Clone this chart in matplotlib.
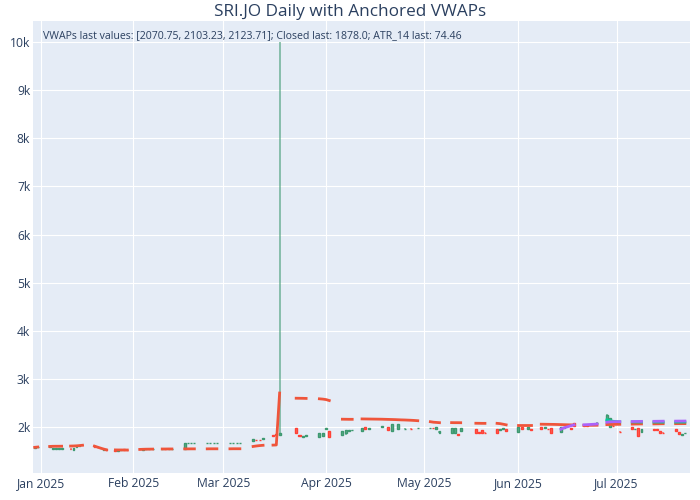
import numpy as np
import pandas as pd
import matplotlib
matplotlib.use("Agg")
import matplotlib.pyplot as plt
import matplotlib.dates as mdates
from matplotlib.colors import to_rgba

TITLE = "SRI.JO Daily with Anchored VWAPs"
NOTE = "VWAPs last values: [2070.75, 2103.23, 2123.71]; Closed last: 1878.0; ATR_14 last: 74.46"

N = None
# trading stretches (start date, number of consecutive days); lines break between stretches
seg_starts = ["2024-12-30", "2025-01-04", "2025-01-11", "2025-01-19", "2025-01-26",
              "2025-02-03", "2025-02-10", "2025-02-17", "2025-02-24", "2025-03-03",
              "2025-03-10", "2025-03-16", "2025-03-23", "2025-03-30", "2025-04-06",
              "2025-04-12", "2025-05-03", "2025-05-10", "2025-05-18", "2025-05-25",
              "2025-06-01", "2025-06-08", "2025-06-21", "2025-06-28", "2025-07-06",
              "2025-07-13", "2025-07-20"]
seg_lengths = [2, 5, 5, 5, 5, 5, 4, 4, 4, 4, 4, 3, 4, 4, 4, 18, 4, 4, 4, 4, 5, 11, 5, 5, 4, 4, 4]

opens = [1560, 1578,
         1592, 1548, 1545, 1540, 1552,
         1552, 1528, 1590, 1606, 1632,
         1612, 1594, 1556, 1520, 1540,
         1528, 1508, 1514, 1536, 1530,
         1546, 1532, 1538, 1540, 1542,
         1544, 1545, 1543, 1546,
         1545, 1662, 1662, 1662,
         1662, 1662, 1662, 1662,
         1662, 1662, 1662, 1662,
         1705, 1736, 1738, 1752,
         1828, 1856, 1830,
         1975, 1836, 1800, 1822,
         1790, 1815, 1965, 1916,
         1836, 1870, 1926, 1928,
         1925, 1993, 1968, N, N, N, 1995, N, 1993, 1925, N, 1965, N, 1962, N, 1968, N, 1975,
         1978, 1985, 1950, 1878,
         1870, 1872, 1848, 1918,
         1965, 1895, 1938, 1885,
         1952, 1945, 1955, 1958,
         1905, 1993, N, 1960, 1950,
         2007, 1988, 1962, 1973, N, N, 1903, 1982, N, 1975, 2076,
         2040, 2042, N, 2060, 2080,
         2076, 2010, 2028, N, 1905,
         2007, 1950, 1973, 1889,
         1955, 1955, 1923, 1885,
         1955, 1896, 1843, 1868]

closes = [1585, 1592,
          1600, 1568, 1560, 1556, 1562,
          1536, 1558, 1604, 1616, 1618,
          1592, 1576, 1574, 1542, 1514,
          1500, 1528, 1530, 1520, 1516,
          1534, 1544, 1546, 1548, 1548,
          1546, 1543, 1547, 1548,
          1668, 1662, 1662, 1662,
          1662, 1662, 1662, 1662,
          1662, 1662, 1662, 1662,
          1752, 1726, 1728, 1762,
          1814, 1842, 1882,
          1870, 1822, 1818, 1830,
          1866, 1880, 1976, 1800,
          1920, 1936, 1934, 1934,
          1978, 1952, 1976, N, N, N, 2027, N, 1944, 2060, N, 2060, N, 1968, N, 1962, N, 1982,
          1984, 1975, 1995, 1908,
          1985, 1984, 1828, 1985,
          1870, 1870, 1870, 1876,
          1870, 1955, 1972, 1918,
          2005, 1960, N, 1993, 1938,
          1960, 1996, 1956, 1882, N, N, 2007, 1992, N, 1966, 2021,
          2030, 2028, N, 2068, 2092,
          2250, 2180, 2018, N, 1890,
          1952, 1958, 1819, 1952,
          1948, 1935, 1882, 1875,
          1925, 1860, 1850, 1878]

highs = [1592, 1598,
         1604, 1572, 1565, 1560, 1566,
         1556, 1562, 1608, 1620, 1636,
         1616, 1598, 1578, 1546, 1544,
         1532, 1532, 1534, 1540, 1534,
         1550, 1548, 1550, 1552, 1552,
         1550, 1549, 1551, 1552,
         1670, 1662, 1662, 1662,
         1662, 1662, 1662, 1662,
         1662, 1662, 1662, 1662,
         1756, 1738, 1740, 1765,
         1830, 1858, 10000,
         1978, 1838, 1822, 1834,
         1870, 1884, 1980, 1920,
         1924, 1940, 1938, 1938,
         1982, 1996, 1980, N, N, N, 2030, N, 1996, 2064, N, 2064, N, 1972, N, 1972, N, 1986,
         1988, 1988, 2007, 1912,
         1988, 1988, 1850, 1988,
         1968, 1898, 1942, 1888,
         1955, 1958, 1976, 1962,
         2008, 1996, N, 1996, 1952,
         2010, 2000, 1966, 1976, N, N, 2010, 1996, N, 1978, 2080,
         2044, 2046, N, 2072, 2096,
         2262, 2185, 2032, N, 1908,
         2010, 1962, 1976, 1956,
         1958, 1958, 1926, 1888,
         1958, 1900, 1854, 1882]

lows = [1555, 1572,
        1588, 1540, 1538, 1535, 1548,
        1530, 1520, 1586, 1600, 1614,
        1588, 1570, 1550, 1512, 1508,
        1494, 1502, 1508, 1516, 1512,
        1530, 1528, 1534, 1536, 1538,
        1540, 1539, 1539, 1542,
        1525, 1662, 1662, 1662,
        1662, 1662, 1662, 1662,
        1662, 1662, 1662, 1662,
        1700, 1722, 1724, 1748,
        1810, 1838, 1826,
        1865, 1818, 1796, 1818,
        1785, 1810, 1960, 1796,
        1832, 1827, 1922, 1924,
        1890, 1948, 1964, N, N, N, 1992, N, 1940, 1920, N, 1960, N, 1958, N, 1958, N, 1971,
        1974, 1972, 1938, 1874,
        1866, 1868, 1824, 1914,
        1866, 1866, 1866, 1872,
        1866, 1941, 1951, 1914,
        1900, 1956, N, 1956, 1934,
        1956, 1984, 1952, 1878, N, N, 1898, 1978, N, 1962, 2016,
        2026, 2024, N, 2056, 2076,
        2070, 2005, 2014, N, 1886,
        1948, 1946, 1815, 1885,
        1944, 1931, 1878, 1871,
        1921, 1856, 1839, 1864]

vwap_a = [1578, 1584,
          1596, 1599, 1600, 1600, 1601,
          1604, 1606, 1609, 1614, 1621,
          1603, 1582, 1562, 1543, 1526,
          1524, 1523, 1523, 1522, 1522,
          1534, 1537, 1539, 1540, 1541,
          1543, 1543, 1544, 1544,
          1545, 1545, 1546, 1546,
          1546, 1547, 1547, 1547,
          1547, 1548, 1548, 1548,
          1596, 1606, 1614, 1620,
          1624, 1627, 2706,
          2598, 2597, 2596, 2594,
          2586, 2580, 2570, 2550,
          2162, 2161, 2160, 2160,
          2168, 2167, 2166, 2165, 2164, 2163, 2162, 2160, 2158, 2156, 2154, 2151, 2148, 2146,
          2143, 2140, 2136, 2131,
          2110, 2100, 2095, 2090,
          2091, 2090, 2090, 2089,
          2078, 2077, 2076, 2076,
          2076, 2070, 2058, 2045,
          2048, 2048, 2048, 2048, 2048,
          2058, 2057, 2056, 2055, 2054, 2052, 2050, 2048, 2046, 2044, 2042,
          2035, 2035, 2036, 2036, 2037,
          2050, 2052, 2054, 2055, 2056,
          2060, 2062, 2063, 2064,
          2065, 2066, 2067, 2068,
          2069, 2070, 2070, 2070.75]

vwap_b_from = "2025-06-28"
vwap_b = [2150, 2128, 2118, 2112, 2108,
          2106, 2105, 2104, 2104,
          2103, 2103, 2102, 2102,
          2102, 2103, 2103, 2103.23]

vwap_c_from = "2025-06-14"
vwap_c = [1955, 1985, 2005, 2025, 2045,
          2046, 2049, 2053, 2057, 2063,
          2100, 2108, 2110, 2111, 2112,
          2114, 2115, 2116, 2117,
          2118, 2119, 2120, 2121,
          2122, 2123, 2123, 2123.71]

month_ticks = ["2025-01-01", "2025-02-01", "2025-03-01", "2025-04-01",
               "2025-05-01", "2025-06-01", "2025-07-01"]
month_labels = ["Jan 2025", "Feb 2025", "Mar 2025", "Apr 2025",
                "May 2025", "Jun 2025", "Jul 2025"]
y_ticks = [2000, 3000, 4000, 5000, 6000, 7000, 8000, 9000, 10000]
y_labels = ["2k", "3k", "4k", "5k", "6k", "7k", "8k", "9k", "10k"]

# ---------------------------------------------------------------- build table
dates, seg_id = [], []
for i, (s, n) in enumerate(zip(seg_starts, seg_lengths)):
    d = pd.date_range(s, periods=n, freq="D")
    dates.extend(d)
    seg_id.extend([i] * n)
df = pd.DataFrame({"date": dates, "seg": seg_id,
                   "open": np.array(opens, dtype=float),
                   "high": np.array(highs, dtype=float),
                   "low": np.array(lows, dtype=float),
                   "close": np.array(closes, dtype=float),
                   "va": np.array(vwap_a, dtype=float)})
df["vb"] = np.nan
df.loc[df.date >= pd.Timestamp(vwap_b_from), "vb"] = vwap_b
df["vc"] = np.nan
df.loc[df.date >= pd.Timestamp(vwap_c_from), "vc"] = vwap_c
df["x"] = mdates.date2num(df["date"])

# ---------------------------------------------------------------- x scale (trading-day axis)
anchor_dates = mdates.date2num(pd.to_datetime(
    ["2024-12-01", "2025-01-01", "2025-02-01", "2025-03-01", "2025-04-01",
     "2025-05-01", "2025-06-01", "2025-07-01", "2025-08-01"]))
anchor_pos = np.array([-51.9, 40.7, 133.3, 223.3, 326.0, 424.3, 518.3, 616.7, 712.8])


def fwd(v):
    return np.interp(v, anchor_dates, anchor_pos)


def inv(v):
    return np.interp(v, anchor_pos, anchor_dates)


# ---------------------------------------------------------------- figure
INK = "#2a3f5f"
INC, DEC = "#3D9970", "#FF4136"
FONT = "Open Sans"

fig = plt.figure(figsize=(7, 5), dpi=100)
fig.patch.set_facecolor("white")
ax = fig.add_axes([33 / 700, 1 - 473.3 / 500, 657 / 700, 452.6 / 500])
ax.set_facecolor("#E5ECF6")
ax.set_xscale("function", functions=(fwd, inv))
for sp in ax.spines.values():
    sp.set_visible(False)

c = df.dropna(subset=["open"])
up = (c["close"] >= c["open"]).to_numpy()
edge = [INC if u else DEC for u in up]
face = [to_rgba(INC if u else DEC, 0.5) for u in up]
wick = [to_rgba(INC if u else DEC, 0.6) for u in up]
ax.vlines(c["x"], c["low"], c["high"], colors=wick, lw=1.3, zorder=2)
ax.bar(c["x"], np.abs(c["close"] - c["open"]), bottom=np.minimum(c["open"], c["close"]),
       width=0.62, color=face, edgecolor=edge, linewidth=1.0, zorder=3)

for col, color in (("va", "#EF553B"), ("vb", "#00CC96"), ("vc", "#AB63FA")):
    for s in range(len(seg_starts)):
        part = df[df.seg == s]
        if part[col].notna().any():
            ax.plot(part["x"], part[col], color=color, lw=2.0,
                    solid_capstyle="projecting", zorder=4)

ax.set_xlim(inv(33.0), inv(690.0))
ax.set_ylim(1038, 10443)
ax.set_xticks(mdates.date2num(pd.to_datetime(month_ticks)))
ax.set_xticklabels(month_labels)
ax.set_yticks(y_ticks)
ax.set_yticklabels(y_labels)
ax.xaxis.set_minor_locator(matplotlib.ticker.NullLocator())
ax.grid(True, color="white", lw=0.8)
ax.set_axisbelow(True)
ax.tick_params(axis="both", length=0, labelsize=8.7, labelcolor=INK)
ax.tick_params(axis="y", pad=2)
ax.tick_params(axis="x", pad=3)
for lab in ax.get_xticklabels() + ax.get_yticklabels():
    lab.set_fontfamily(FONT)

ax.text(10 / 657, 1 - 14.5 / 452.6, NOTE, transform=ax.transAxes, ha="left", va="center",
        fontsize=7.6, color=INK, family=FONT)
fig.text(0.5, 1 - 12 / 500, TITLE, ha="center", va="center", fontsize=12.3,
         color=INK, family=FONT)

fig.savefig("out.png", dpi=100)
